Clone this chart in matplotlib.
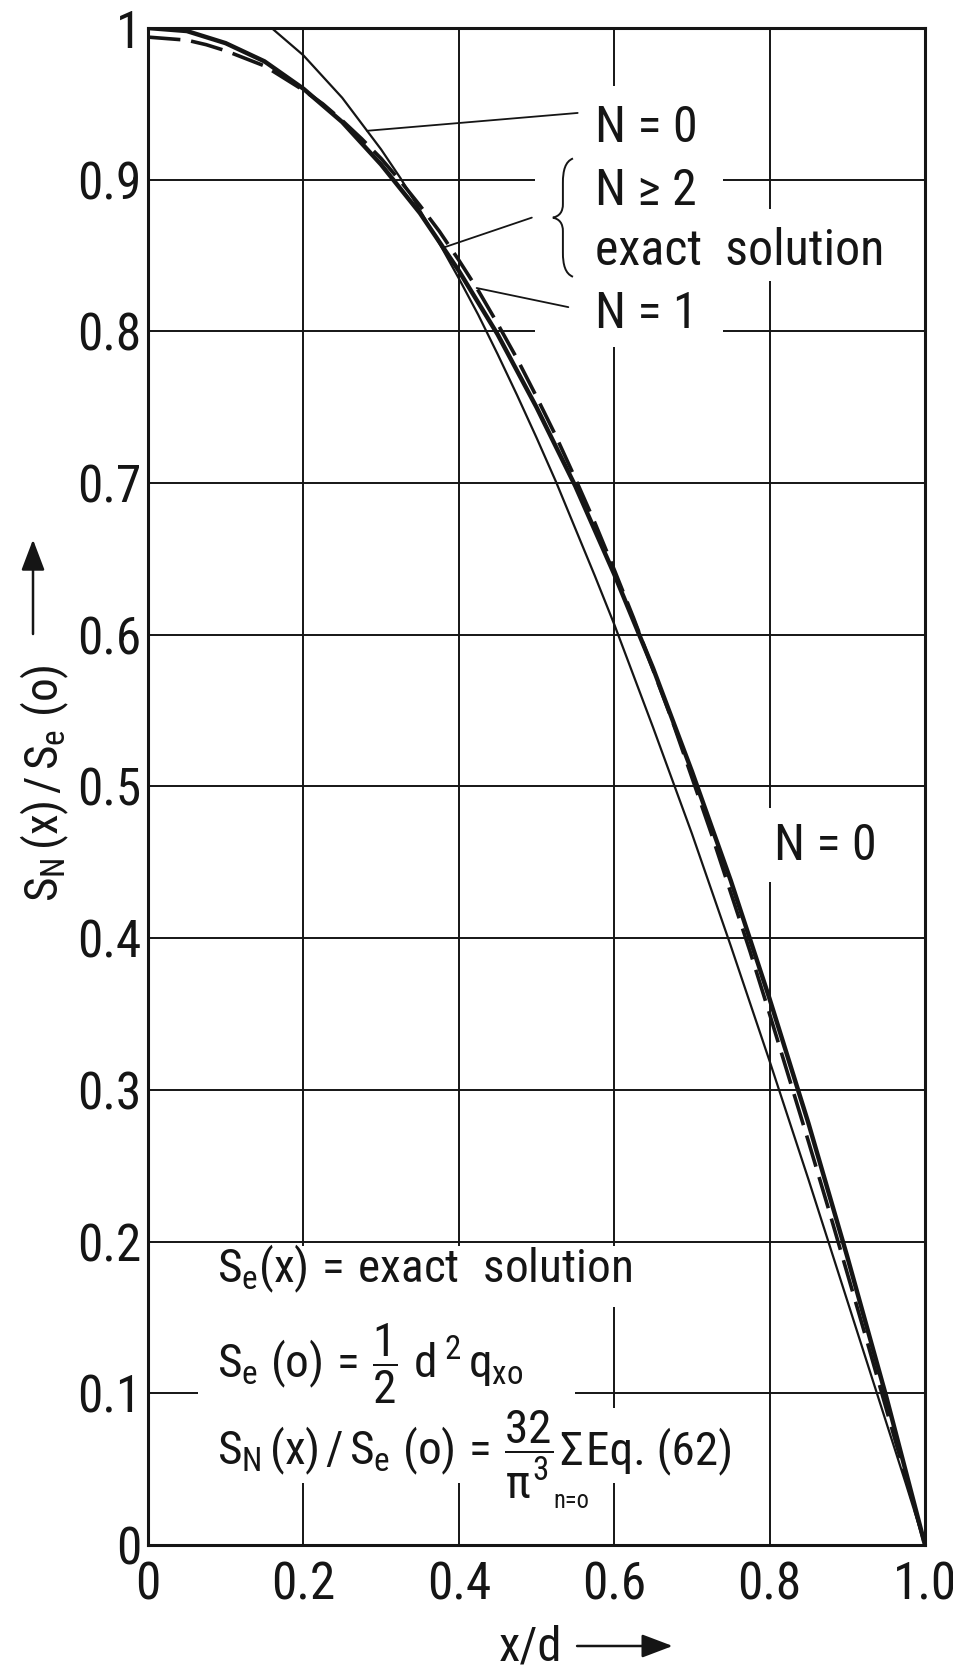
import matplotlib
matplotlib.use("Agg")
import numpy as np
import matplotlib.pyplot as plt
from matplotlib import font_manager
from matplotlib.patches import Rectangle, PathPatch, FancyArrowPatch
from matplotlib.path import Path

# ---------------- data ----------------
x_vals = [0.000, 0.025, 0.050, 0.075, 0.100, 0.125, 0.150, 0.175, 0.200, 0.225,
          0.250, 0.275, 0.300, 0.325, 0.350, 0.375, 0.400, 0.425, 0.450, 0.475,
          0.500, 0.525, 0.550, 0.575, 0.600, 0.625, 0.650, 0.675, 0.700, 0.725,
          0.750, 0.775, 0.800, 0.825, 0.850, 0.875, 0.900, 0.925, 0.950, 0.975, 1.000]
exact_vals = [1.000, 0.999, 0.998, 0.994, 0.990, 0.984, 0.978, 0.969, 0.960, 0.949,
              0.938, 0.924, 0.910, 0.894, 0.878, 0.859, 0.840, 0.819, 0.798, 0.774,
              0.750, 0.724, 0.698, 0.669, 0.640, 0.609, 0.578, 0.544, 0.510, 0.474,
              0.438, 0.399, 0.360, 0.319, 0.278, 0.234, 0.190, 0.144, 0.098, 0.049, 0.000]
n0_vals = [1.032, 1.031, 1.029, 1.025, 1.019, 1.012, 1.004, 0.993, 0.982, 0.968,
           0.954, 0.937, 0.920, 0.901, 0.880, 0.858, 0.835, 0.811, 0.785, 0.758,
           0.730, 0.701, 0.670, 0.639, 0.607, 0.573, 0.539, 0.504, 0.469, 0.432,
           0.395, 0.357, 0.319, 0.280, 0.241, 0.201, 0.161, 0.121, 0.081, 0.041, 0.000]
n1_vals = [0.994, 0.993, 0.992, 0.989, 0.985, 0.980, 0.975, 0.967, 0.959, 0.950,
           0.939, 0.927, 0.914, 0.899, 0.883, 0.866, 0.847, 0.827, 0.805, 0.782,
           0.757, 0.731, 0.703, 0.674, 0.643, 0.611, 0.577, 0.543, 0.506, 0.469,
           0.430, 0.391, 0.350, 0.308, 0.266, 0.223, 0.179, 0.135, 0.090, 0.045, 0.000]

x_ticks = [0.0, 0.2, 0.4, 0.6, 0.8, 1.0]
x_tick_labels = ["0", "0.2", "0.4", "0.6", "0.8", "1.0"]
y_ticks = [0.0, 0.1, 0.2, 0.3, 0.4, 0.5, 0.6, 0.7, 0.8, 0.9, 1.0]
y_tick_labels = ["0", "0.1", "0.2", "0.3", "0.4", "0.5", "0.6", "0.7", "0.8", "0.9", "1"]

# ---------------- font choice ----------------
entries = font_manager.fontManager.ttflist
names = {f.name for f in entries}
FONT, STRETCH, SF = "DejaVu Sans", "normal", 0.78
for cand in ["Roboto Condensed", "Liberation Sans Narrow", "Open Sans Condensed"]:
    if cand in names:
        FONT, STRETCH, SF = cand, "normal", 1.0
        break
else:
    if any(f.name == "DejaVu Sans" and "condensed" in str(f.stretch) for f in entries):
        FONT, STRETCH, SF = "DejaVu Sans", "condensed", 0.92

plt.rcParams["font.family"] = [FONT, "DejaVu Sans"]
plt.rcParams["font.stretch"] = STRETCH
plt.rcParams["mathtext.fontset"] = "custom"
plt.rcParams["mathtext.rm"] = FONT
plt.rcParams["mathtext.it"] = FONT
plt.rcParams["mathtext.sf"] = FONT
plt.rcParams["mathtext.bf"] = FONT + ":bold"

INK = "#151515"
FS_TICK = 37 * SF
FS_ANN = 36 * SF
FS_FORM = 34 * SF

fig = plt.figure(figsize=(9.54, 16.67), dpi=100)
ax = fig.add_axes([0.1551, 0.0732, 0.8145, 0.9100])
ax.set_xlim(0, 1)
ax.set_ylim(0, 1)
ax.set_axisbelow(True)
ax.grid(True, color=INK, lw=1.4)
for s in ax.spines.values():
    s.set_linewidth(2.2)
    s.set_color(INK)
ax.set_xticks(x_ticks)
ax.set_xticklabels(x_tick_labels)
ax.set_yticks(y_ticks)
ax.set_yticklabels(y_tick_labels)
ax.tick_params(axis="both", length=0, labelsize=FS_TICK, colors=INK)
ax.tick_params(axis="x", pad=11)
ax.tick_params(axis="y", pad=5)

# white masks behind the labels (they interrupt the grid)
for (x0, y0, w, h) in [(0.498, 0.790, 0.242, 0.172),
                       (0.740, 0.833, 0.215, 0.048),
                       (0.790, 0.437, 0.130, 0.049),
                       (0.065, 0.157, 0.595, 0.040),
                       (0.065, 0.041, 0.485, 0.116),
                       (0.550, 0.041, 0.240, 0.049)]:
    ax.add_patch(Rectangle((x0, y0), w, h, facecolor="white", edgecolor="none", zorder=1))

# curves
ax.plot(x_vals, n0_vals, color=INK, lw=1.6, zorder=4)
ax.plot(x_vals, exact_vals, color=INK, lw=3.2, zorder=4)
ax.plot(x_vals, n1_vals, color=INK, lw=2.6, dashes=(9, 3), zorder=5)

# leader lines
def leader(xc, curve, xt, yt):
    yc = float(np.interp(xc, x_vals, curve))
    ax.annotate("", xy=(xc, yc), xytext=(xt, yt), xycoords="data",
                arrowprops=dict(arrowstyle="-", lw=1.3, color=INK,
                                shrinkA=0, shrinkB=0), zorder=3)

leader(0.282, n0_vals, 0.553, 0.944)
leader(0.380, exact_vals, 0.494, 0.875)
leader(0.423, n1_vals, 0.541, 0.816)

# brace
verts = [(0.547, 0.914),
         (0.537, 0.912), (0.534, 0.906), (0.534, 0.898),
         (0.534, 0.884),
         (0.534, 0.879), (0.530, 0.876), (0.521, 0.875),
         (0.530, 0.874), (0.534, 0.871), (0.534, 0.866),
         (0.534, 0.852),
         (0.534, 0.844), (0.537, 0.838), (0.547, 0.836)]
codes = [Path.MOVETO,
         Path.CURVE4, Path.CURVE4, Path.CURVE4,
         Path.LINETO,
         Path.CURVE4, Path.CURVE4, Path.CURVE4,
         Path.CURVE4, Path.CURVE4, Path.CURVE4,
         Path.LINETO,
         Path.CURVE4, Path.CURVE4, Path.CURVE4]
ax.add_patch(PathPatch(Path(verts, codes), facecolor="none", edgecolor=INK, lw=1.4, zorder=3))

# labels in the plot
tk = dict(color=INK, ha="left", va="baseline", zorder=6)
ax.text(0.575, 0.925, "N = 0", fontsize=FS_ANN, **tk)
ax.text(0.575, 0.883, "N ≥ 2", fontsize=FS_ANN, **tk)
ax.text(0.575, 0.844, "exact  solution", fontsize=FS_ANN, **tk)
ax.text(0.575, 0.802, "N = 1", fontsize=FS_ANN, **tk)
ax.text(0.806, 0.4515, "N = 0", fontsize=FS_ANN, **tk)

ax.text(0.089, 0.173, r"$S_e(x)\,=\,\mathrm{exact\ \ solution}$", fontsize=FS_FORM, **tk)
ax.text(0.089, 0.110, r"$S_e\ (o)\,=\,\dfrac{1}{2}\ d^{\,2}\,q_{xo}$", fontsize=FS_FORM, **tk)
t3 = ax.text(0.089, 0.053, r"$S_N\,(x)\,/\,S_e\ (o)\,=\,\dfrac{32}{\pi^3}$", fontsize=FS_FORM, **tk)
sig = ax.annotate("Σ", xy=(1.0, 0.053), xycoords=(t3, "data"), xytext=(4, 0),
                  textcoords="offset points", fontsize=FS_FORM, color=INK,
                  ha="left", va="baseline", zorder=6)
ax.annotate("Eq. (62)", xy=(1.0, 0.053), xycoords=(sig, "data"), xytext=(2, 0),
            textcoords="offset points", fontsize=FS_FORM, color=INK,
            ha="left", va="baseline", zorder=6)
ax.annotate("n=o", xy=(0.5, 0.029), xycoords=(sig, "data"), fontsize=FS_FORM * 0.52,
            color=INK, ha="center", va="center", zorder=6)

# axis labels with arrows
fig.text(0.047, 0.530, r"$S_N\,(x)\,/\,S_e\ (o)$", rotation=90, fontsize=FS_FORM,
         ha="center", va="center", color=INK)
fig.add_artist(FancyArrowPatch(
    (0.0346, 0.618), (0.0346, 0.678), transform=fig.transFigure,
    arrowstyle="-|>,head_length=0.95,head_width=0.36", mutation_scale=20,
    lw=1.8, color=INK))
fig.text(0.556, 0.004, "x/d", fontsize=35 * SF, ha="center", va="baseline", color=INK)
fig.add_artist(FancyArrowPatch(
    (0.602, 0.0126), (0.708, 0.0126), transform=fig.transFigure,
    arrowstyle="-|>,head_length=0.95,head_width=0.36", mutation_scale=20,
    lw=1.8, color=INK))

fig.savefig("out.png", dpi=100, facecolor="white")
